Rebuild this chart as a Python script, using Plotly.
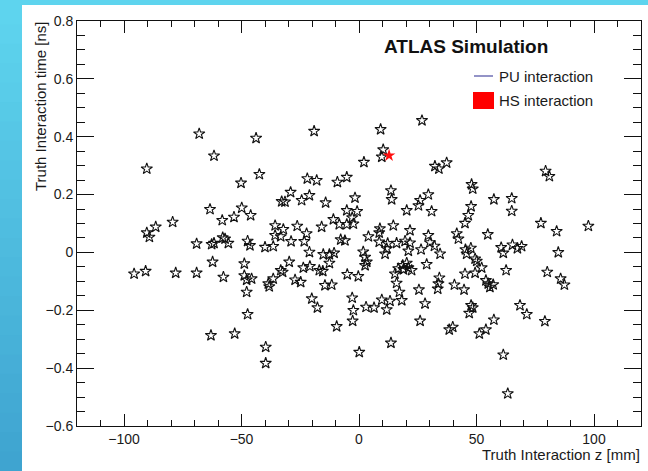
import plotly.graph_objects as go

# ---------------- data ----------------
pu_z = [
    -68.0, -43.8, -19.1, -90.3, -61.7, -42.4, -50.2, -22.0, -18.0, -9.2,
    -5.2, -29.1, -21.1, -24.4, -32.9, -31.5, -14.2, -1.7, -63.4, -49.9,
    -46.1, -53.2, -58.2, -79.3, -86.5, -90.3, -89.2, -69.1, -62.7, -61.7,
    -58.0, -57.0, -55.6, -47.4, -46.4, -40.0, -36.5, -35.7, -32.2, -35.7,
    -33.3, -26.3, -28.9, -23.3, -22.3, -15.9, -10.9, -8.4, -5.2, -2.4,
    -5.2, -0.8, -2.9, -7.8, -6.0,
    9.2, 26.8, 10.3, 9.7, 2.1, 32.3, 34.0, 37.3, 79.4, 81.0,
    47.9, 48.4, 13.6, 13.9, 29.5, 57.4, 65.0, 65.0, 26.0, 25.3,
    30.9, 20.3, 47.7, 46.5, 45.1, 14.6, 8.9, 8.6, 4.0, 21.7,
    29.5, 41.6, 42.3, 54.8, 77.4, 84.1, 97.6, 8.6, 12.2, 16.0,
    19.6, 21.7, 30.2, 32.1, 60.5, 65.3, 67.4, 69.2, 45.3, 47.6,
    1.8, 26.4, 84.8, 11.8, 11.1, 21.0, 34.5, 45.8, 61.4,
    2.6, 3.3, 2.6, 28.8, 49.4, 50.1, 52.2, 62.6, 15.3, 16.7,
    18.6, 20.3, 21.0, 22.4, 18.9, 16.0, 17.2, 18.2, 25.5, 28.1,
    26.0, 34.2, 33.8, 33.5, 40.6, 44.7, 45.1, 49.4, 54.0, 55.7,
    57.1, 55.0, 3.0, 6.4, 9.7, 11.8, 13.2, 13.6, 38.4, 39.9,
    47.7, 48.4, 46.9, 51.2, 54.0, 57.4, 68.5, 71.4, 61.4, 63.3,
    79.1, 80.1, 85.8, 87.4,
    -21.1, -15.2, -12.6, -10.6, -12.6, -62.3, -48.8, -29.7, -23.7, -20.9,
    -33.3, -32.5, -16.9, -15.4, -95.7, -90.8, -78.0, -69.1, -57.7, -48.8,
    -47.8, -45.7, -36.5, -38.6, -38.2, -27.2, -24.8, -14.5, -11.6, -5.0,
    -0.3, -47.8, -20.1, -17.7, -2.9, -2.4, -2.7, -47.4, -9.5, -63.0,
    -52.9, -39.7, -39.7, 0.1,
]
pu_t = [
    0.410, 0.395, 0.419, 0.289, 0.334, 0.270, 0.240, 0.255, 0.249, 0.243,
    0.260, 0.208, 0.197, 0.180, 0.176, 0.175, 0.172, 0.189, 0.149, 0.154,
    0.128, 0.122, 0.111, 0.105, 0.088, 0.068, 0.053, 0.030, 0.028, 0.032,
    0.051, 0.047, 0.032, 0.039, 0.024, 0.018, 0.021, 0.093, 0.080, 0.059,
    0.055, 0.091, 0.038, 0.038, 0.065, 0.088, 0.114, 0.097, 0.097, 0.099,
    0.145, 0.142, 0.120, 0.044, 0.041,
    0.425, 0.456, 0.355, 0.330, 0.312, 0.298, 0.289, 0.310, 0.281, 0.263,
    0.235, 0.220, 0.214, 0.183, 0.200, 0.183, 0.187, 0.143, 0.180, 0.162,
    0.142, 0.145, 0.159, 0.128, 0.101, 0.093, 0.082, 0.068, 0.055, 0.076,
    0.059, 0.065, 0.047, 0.062, 0.101, 0.073, 0.091, 0.036, 0.031, 0.032,
    0.039, 0.033, 0.034, 0.022, 0.017, 0.026, 0.014, 0.021, 0.010, 0.015,
    0.002, 0.010, 0.000, 0.013, -0.005, 0.005, -0.005, -0.005, -0.002,
    -0.016, -0.033, -0.045, -0.041, -0.022, -0.030, -0.053, -0.062, -0.074, -0.056,
    -0.045, -0.037, -0.053, -0.062, -0.059, -0.106, -0.137, -0.166, -0.129, -0.177,
    -0.237, -0.088, -0.108, -0.126, -0.112, -0.129, -0.074, -0.071, -0.097, -0.120,
    -0.111, -0.108, -0.189, -0.191, -0.164, -0.198, -0.168, -0.313, -0.267, -0.258,
    -0.183, -0.191, -0.210, -0.281, -0.267, -0.233, -0.183, -0.214, -0.354, -0.488,
    -0.238, -0.068, -0.091, -0.112,
    0.001, -0.007, -0.007, -0.002, -0.037, -0.033, -0.039, -0.033, -0.053, -0.048,
    -0.062, -0.068, -0.062, -0.065, -0.074, -0.065, -0.071, -0.071, -0.085, -0.080,
    -0.095, -0.091, -0.091, -0.108, -0.118, -0.095, -0.103, -0.114, -0.112, -0.076,
    -0.083, -0.137, -0.160, -0.191, -0.157, -0.200, -0.237, -0.214, -0.256, -0.287,
    -0.281, -0.327, -0.383, -0.345,
]
hs_z = [12.8]
hs_t = [0.335]

x_range = [-120, 120]
y_range = [-0.6, 0.8]
x_title = "Truth Interaction z [mm]"
y_title = "Truth Interaction time [ns]"
label_main = "ATLAS Simulation"
legend_names = ["PU interaction", "HS interaction"]

# ---------------- layout geometry ----------------
W, H = 648, 471
L, R, T, B = 77, 7, 21, 45
PW, PH = W - L - R, H - T - B


def px(X):
    return (X - L) / PW


def py(Y):
    return (H - B - Y) / PH


FONT = "Liberation Sans, Arial, Helvetica, sans-serif"
TXT = "#1a1a1a"

fig = go.Figure()
fig.add_trace(go.Scatter(
    x=pu_z, y=pu_t, mode="markers", name=legend_names[0], showlegend=False,
    marker=dict(symbol="star-open", size=8.5, color="#111",
                line=dict(width=1.1, color="#111")),
))
fig.add_trace(go.Scatter(
    x=hs_z, y=hs_t, mode="markers", name=legend_names[1], showlegend=False,
    marker=dict(symbol="star", size=9.5, color="#ff1010", line=dict(width=0)),
))

axis_common = dict(
    showgrid=False, zeroline=False, showline=True, linecolor="#111",
    linewidth=1, mirror="ticks", ticks="inside", tickcolor="#111",
    tickwidth=1, tickfont=dict(family=FONT, size=14, color=TXT),
)
fig.update_xaxes(range=x_range, dtick=50, tick0=0, ticklen=12,
                 minor=dict(dtick=10, ticklen=6, ticks="inside", tickcolor="#111"),
                 **axis_common)
fig.update_yaxes(range=y_range, dtick=0.2, tick0=0, ticklen=17,
                 minor=dict(dtick=0.05, ticklen=8, ticks="inside", tickcolor="#111"),
                 **axis_common)

# ---------------- background panel (slide look) ----------------
shapes = []
shapes.append(dict(type="rect", xref="paper", yref="paper", layer="below",
                   x0=px(22), x1=px(W + 10), y0=py(H + 10), y1=py(5),
                   fillcolor="white", line=dict(width=0)))
top_c = (94, 212, 238)
bot_c = (63, 164, 208)
n = 24
for i in range(n):
    f = i / (n - 1)
    c = tuple(int(round(top_c[k] + (bot_c[k] - top_c[k]) * f)) for k in range(3))
    y0 = 5 + (H - 5) * i / n
    y1 = 5 + (H - 5) * (i + 1) / n
    shapes.append(dict(type="rect", xref="paper", yref="paper", layer="below",
                       x0=px(-5), x1=px(22), y0=py(y1 + 1), y1=py(y0),
                       fillcolor="rgb(%d,%d,%d)" % c, line=dict(width=0)))

# legend symbols
shapes.append(dict(type="line", xref="paper", yref="paper",
                   x0=px(474), x1=px(493), y0=py(76), y1=py(76),
                   line=dict(color="#6f6fb5", width=1.5)))
shapes.append(dict(type="rect", xref="paper", yref="paper",
                   x0=px(473), x1=px(494), y0=py(109), y1=py(92),
                   fillcolor="#ff0000", line=dict(width=0)))

annotations = [
    dict(text="<b>%s</b>" % label_main, xref="paper", yref="paper",
         x=px(382), y=py(46), xanchor="left", yanchor="middle", showarrow=False,
         font=dict(family=FONT, size=19, color="#111")),
    dict(text=legend_names[0], xref="paper", yref="paper",
         x=px(497), y=py(76), xanchor="left", yanchor="middle", showarrow=False,
         font=dict(family=FONT, size=15, color=TXT)),
    dict(text=legend_names[1], xref="paper", yref="paper",
         x=px(497), y=py(100), xanchor="left", yanchor="middle", showarrow=False,
         font=dict(family=FONT, size=15, color=TXT)),
    dict(text=x_title, xref="paper", yref="paper",
         x=px(642), y=py(455), xanchor="right", yanchor="middle", showarrow=False,
         font=dict(family=FONT, size=15, color=TXT)),
    dict(text=y_title, xref="paper", yref="paper", textangle=-90,
         x=px(40), y=py(19), xanchor="center", yanchor="top", showarrow=False,
         font=dict(family=FONT, size=15, color=TXT)),
]

fig.update_layout(
    width=W, height=H, autosize=False,
    margin=dict(l=L, r=R, t=T, b=B, pad=0),
    paper_bgcolor="rgb(%d,%d,%d)" % top_c, plot_bgcolor="white",
    shapes=shapes, annotations=annotations, showlegend=False,
    font=dict(family=FONT, color=TXT),
)

fig.write_html("out.html")
